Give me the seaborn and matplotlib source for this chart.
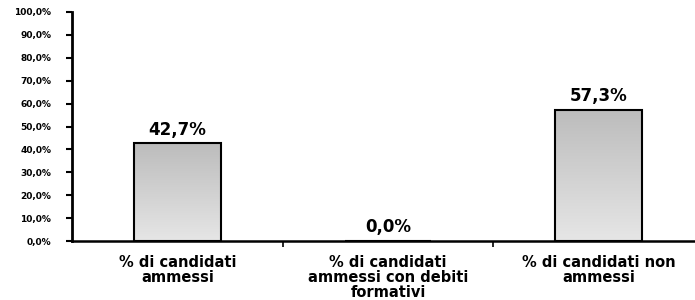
import numpy as np
import pandas as pd
import matplotlib
matplotlib.use('Agg')
import matplotlib.pyplot as plt
from matplotlib.colors import LinearSegmentedColormap
import seaborn as sns

# data
categories = ['% di candidati\nammessi',
              '% di candidati\nammessi con debiti\nformativi',
              '% di candidati non\nammessi']
values = [42.7, 0.0, 57.3]
value_labels = ['42,7%', '0,0%', '57,3%']
ytick_values = list(range(0, 101, 10))
ytick_labels = [f'{v},0%' for v in ytick_values]

df = pd.DataFrame({'cat': categories, 'val': values})

sns.set_style('white')
plt.rcParams['font.family'] = ['DejaVu Sans']
plt.rcParams['text.color'] = 'black'
plt.rcParams['xtick.color'] = 'black'
plt.rcParams['ytick.color'] = 'black'

fig = plt.figure(figsize=(6.95, 3.0), dpi=100)
ax = fig.add_axes([72 / 695, 59 / 300, 632 / 695, 229 / 300])

sns.barplot(data=df, x='cat', y='val', color='#d0d0d0', width=0.41,
            edgecolor='black', linewidth=1.5, ax=ax, zorder=2)

ax.set_xlim(-0.5, 2.5)
ax.set_ylim(0, 100)

# gradient fill, darker at the top
cmap = LinearSegmentedColormap.from_list('g', ['#e6e6e6', '#bcbcbc'])
grad = np.linspace(0, 1, 256).reshape(-1, 1)
for p in ax.patches:
    x, y = p.get_x(), p.get_y()
    w, h = p.get_width(), p.get_height()
    if h <= 0:
        continue
    im = ax.imshow(grad, extent=[x, x + w, y, y + h], origin='lower',
                   cmap=cmap, aspect='auto', zorder=1.5)
    im.set_clip_path(p)
    p.set_facecolor('none')
    p.set_zorder(3)
ax.set_xlim(-0.5, 2.5)
ax.set_ylim(0, 100)

# value labels
for i, (v, lab) in enumerate(zip(values, value_labels)):
    ax.text(i, v + 2, lab, ha='center', va='bottom', fontsize=12,
            fontweight='bold', color='black')

ax.set_yticks(ytick_values)
ax.set_yticklabels(ytick_labels, fontsize=6.5, fontweight='bold')
ax.tick_params(axis='y', direction='out', length=4, width=1.5, pad=11,
               left=True)

ax.set_xticks(range(len(categories)))
ax.set_xticklabels(categories, fontsize=10.5, fontweight='bold',
                   linespacing=1.0)
ax.tick_params(axis='x', length=0, pad=10)
ax.set_xticks([0.5, 1.5], minor=True)
ax.tick_params(axis='x', which='minor', direction='out', length=4,
               width=1.2, bottom=True)

ax.set_xlabel('')
ax.set_ylabel('')
for s in ['top', 'right']:
    ax.spines[s].set_visible(False)
ax.spines['left'].set_linewidth(2)
ax.spines['bottom'].set_linewidth(1.8)
ax.spines['left'].set_color('black')
ax.spines['bottom'].set_color('black')

fig.savefig('out.png', dpi=100)
